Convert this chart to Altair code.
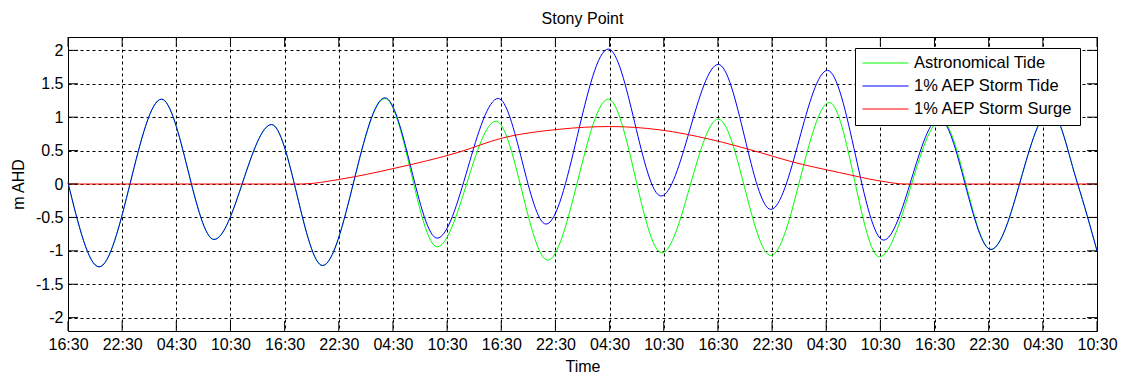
import json

import altair as alt
import pandas as pd

# Axis ticks: hours since the first 16:30 reading, and the clock labels shown
hour_ticks = [0, 6, 12, 18, 24, 30, 36, 42, 48, 54, 60, 66, 72, 78, 84, 90, 96, 102, 108, 114]
time_labels = ["16:30", "22:30", "04:30", "10:30", "16:30", "22:30", "04:30", "10:30",
               "16:30", "22:30", "04:30", "10:30", "16:30", "22:30", "04:30", "10:30",
               "16:30", "22:30", "04:30", "10:30"]
level_ticks = [-2, -1.5, -1, -0.5, 0, 0.5, 1, 1.5, 2]

# Astronomical tide: highs and lows (hours, m AHD)
astro_hours = [0.0, 3.44, 10.35, 16.18, 22.55, 28.20, 35.11, 40.90, 47.42, 53.14,
               59.86, 65.78, 72.05, 77.86, 84.36, 89.89, 96.74, 102.25, 108.83, 111.86, 114.0]
astro_level = [0.02, -1.24, 1.27, -0.83, 0.89, -1.22, 1.28, -0.94, 0.94, -1.14,
               1.27, -1.03, 0.97, -1.07, 1.22, -1.09, 0.96, -0.98, 1.10, 0.0, -1.00]

# 1% AEP storm tide: highs and lows (hours, m AHD)
storm_hours = [0.0, 3.44, 10.35, 16.18, 22.55, 28.20, 35.11, 40.90, 47.67, 52.96,
               59.86, 65.70, 72.05, 77.86, 84.14, 90.35, 96.52, 102.25, 108.83, 111.86, 114.0]
storm_level = [0.02, -1.24, 1.27, -0.83, 0.89, -1.22, 1.29, -0.81, 1.28, -0.60,
               2.02, -0.18, 1.79, -0.38, 1.70, -0.84, 0.98, -0.98, 1.10, 0.0, -1.00]

# 1% AEP storm surge (hours, m)
surge_hours = [0.0, 25.9, 30.1, 36.0, 43.4, 47.9, 54.5, 60.0, 65.6, 71.1, 76.7, 80.0,
               85.5, 90.0, 92.7, 114.0]
surge_level = [0.0, 0.0, 0.07, 0.23, 0.48, 0.68, 0.82, 0.86, 0.81, 0.67, 0.47, 0.34,
               0.17, 0.045, 0.0, 0.0]

series_names = ["Astronomical Tide", "1% AEP Storm Tide", "1% AEP Storm Surge"]
series_colors = ["#00ff00", "#0000ff", "#ff0000"]

FONT = "Liberation Sans"
FS = 16

frames = []
for name, hrs, lvl in zip(series_names,
                          [astro_hours, storm_hours, surge_hours],
                          [astro_level, storm_level, surge_level]):
    frames.append(pd.DataFrame({"hour": hrs, "level": lvl, "series": name}))
data = pd.concat(frames, ignore_index=True)

x_ticks_df = pd.DataFrame({"hour": hour_ticks})
y_ticks_df = pd.DataFrame({"level": level_ticks})

x_scale = alt.Scale(domain=[0, 114], nice=False, zero=False)
y_scale = alt.Scale(domain=[-2.2, 2.2], nice=False, zero=False)

x_axis = alt.Axis(
    values=hour_ticks,
    labelExpr=json.dumps(time_labels) + "[round(datum.value / 6)]",
    title="Time",
    grid=True, gridDash=[3, 3], gridColor="black", gridOpacity=1, gridWidth=1,
    ticks=False, domain=False,
    labelFont=FONT, labelFontSize=FS, labelColor="black", labelPadding=5,
    labelFlush=False, labelOverlap=False,
    titleFont=FONT, titleFontSize=FS, titleFontWeight="normal", titleColor="black",
    titlePadding=6,
)
y_axis = alt.Axis(
    values=level_ticks,
    labelExpr="'' + datum.value",
    title="m AHD",
    grid=True, gridDash=[3, 3], gridColor="black", gridOpacity=1, gridWidth=1,
    ticks=False, domain=False,
    labelFont=FONT, labelFontSize=FS, labelColor="black", labelPadding=5,
    labelOverlap=False, labelFlush=False,
    titleFont=FONT, titleFontSize=FS, titleFontWeight="normal", titleColor="black",
    titlePadding=9,
)

color = alt.Color(
    "series:N",
    scale=alt.Scale(domain=series_names, range=series_colors),
    title=None,
    legend=alt.Legend(
        orient="none", legendX=787, legendY=11,
        fillColor="white", strokeColor="black", padding=7,
        symbolType="stroke", symbolSize=46 * 46, symbolStrokeWidth=1,
        clipHeight=16,
        labelFont=FONT, labelFontSize=16.5, labelColor="black",
        labelOffset=5, rowPadding=6, labelLimit=400,
    ),
)

base = alt.Chart(data)


def series_line(name):
    return base.transform_filter(alt.datum.series == name).mark_line(
        strokeWidth=1, interpolate="monotone"
    ).encode(
        x=alt.X("hour:Q", scale=x_scale, axis=x_axis),
        y=alt.Y("level:Q", scale=y_scale, axis=y_axis),
        color=color,
    )


lines = [series_line(n) for n in series_names]

W, H, TICK = 1029, 294, 10

# Inward tick marks on all four sides of the frame
tick_x = alt.X("hour:Q", scale=x_scale, axis=x_axis)
tick_y = alt.Y("level:Q", scale=y_scale, axis=y_axis)
top_ticks = alt.Chart(x_ticks_df).mark_rule(color="black", strokeWidth=1).encode(
    x=tick_x, y=alt.value(0), y2=alt.value(TICK))
bottom_ticks = alt.Chart(x_ticks_df).mark_rule(color="black", strokeWidth=1).encode(
    x=tick_x, y=alt.value(H - TICK), y2=alt.value(H))
left_ticks = alt.Chart(y_ticks_df).mark_rule(color="black", strokeWidth=1).encode(
    y=tick_y, x=alt.value(0), x2=alt.value(TICK))
right_ticks = alt.Chart(y_ticks_df).mark_rule(color="black", strokeWidth=1).encode(
    y=tick_y, x=alt.value(W - TICK), x2=alt.value(W))

chart = alt.layer(*lines, top_ticks, bottom_ticks, left_ticks, right_ticks).properties(
    width=W, height=H,
    title=alt.TitleParams("Stony Point", font=FONT, fontSize=FS, fontWeight="normal",
                          color="black", anchor="middle", offset=10),
    autosize=alt.AutoSizeParams(type="none"),
    padding={"left": 68, "top": 37, "right": 25, "bottom": 43},
    background="white",
).configure_view(stroke="black", strokeWidth=1)

chart.save("out.html", embed_options={"renderer": "svg", "actions": False})
